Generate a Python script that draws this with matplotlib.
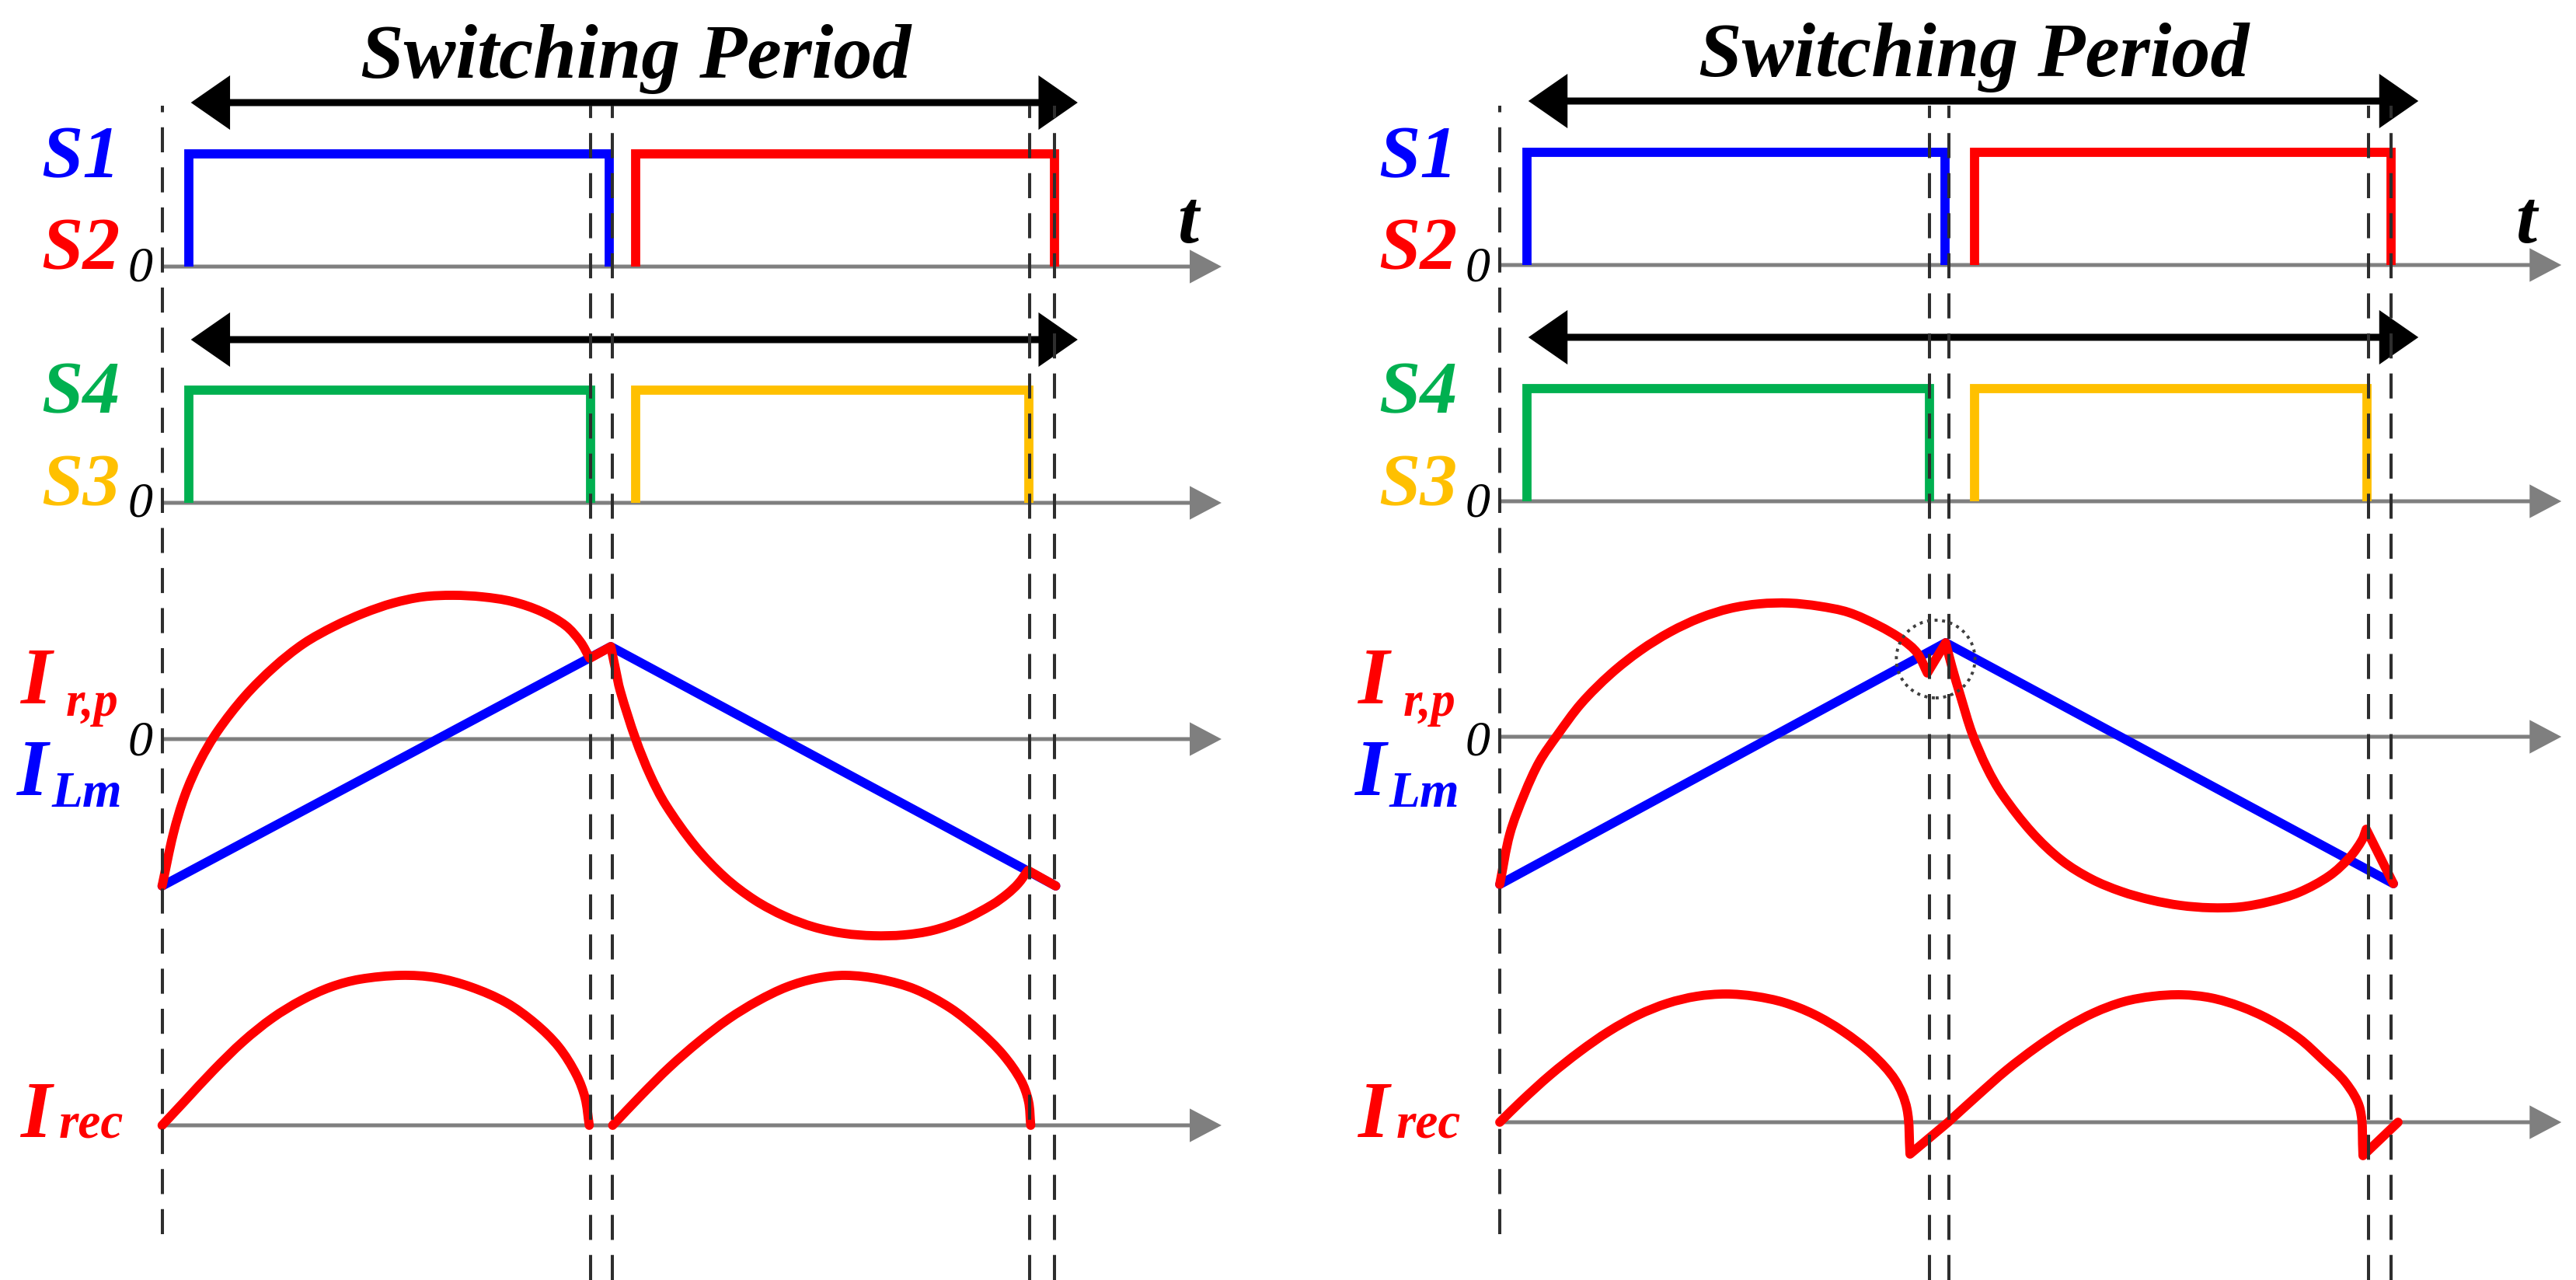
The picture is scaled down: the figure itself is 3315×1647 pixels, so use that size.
import numpy as np
import matplotlib
matplotlib.use("Agg")
import matplotlib.pyplot as plt
from matplotlib.patches import FancyArrowPatch, Ellipse, PathPatch
from matplotlib.path import Path

# ------------------------------------------------------------------
# DATA  (time normalised to one switching period, amplitudes in a.u.)
# ------------------------------------------------------------------
dashed_L = [0.0, 0.4795, 0.5038, 0.9705, 0.9986]
dashed_R = [0.0, 0.4805, 0.5022, 0.9725, 0.9975]

# gate signals: (turn-on, turn-off)
S1_L, S2_L, S4_L, S3_L = (0.030, 0.500), (0.530, 0.9986), (0.030, 0.4795), (0.530, 0.970)
S1_R, S2_R, S4_R, S3_R = (0.0304, 0.4985), (0.531, 0.9975), (0.0304, 0.4805), (0.531, 0.970)

# magnetizing current (triangle corners)
t_ilm_L = [0.0, 0.5021, 1.0]
i_ilm_L = [-1.89, 1.19, -1.89]
t_ilm_R = [0.0, 0.499, 1.0]
i_ilm_R = [-1.90, 1.21, -1.89]

# resonant current, left case
t_ir_L = [0.000, 0.0125, 0.0256, 0.042, 0.062, 0.0925, 0.1256, 0.1586, 0.1925,
          0.2256, 0.2586, 0.2916, 0.3256, 0.3586, 0.3917, 0.4247, 0.4516, 0.4682, 0.4786,
          0.5021, 0.507, 0.5127, 0.5299, 0.5464, 0.5638, 0.5968, 0.6299, 0.663, 0.6969,
          0.7299, 0.763, 0.796, 0.8299, 0.8629, 0.896, 0.929, 0.946, 0.958, 0.969, 1.0]
i_ir_L = [-1.89, -1.22, -0.72, -0.29, 0.10, 0.55, 0.93, 1.23, 1.45,
          1.62, 1.75, 1.83, 1.85, 1.83, 1.77, 1.64, 1.46, 1.25, 1.04,
          1.19, 0.92, 0.62, 0.0, -0.47, -0.85, -1.38, -1.78, -2.07, -2.28,
          -2.42, -2.50, -2.53, -2.52, -2.46, -2.33, -2.13, -1.99, -1.86, -1.69, -1.89]
kinks_ir_L = [0.4786, 0.5021, 0.969]

# resonant current, right case
t_ir_R = [0.0, 0.0113, 0.0278, 0.0444, 0.0644, 0.0913, 0.1244, 0.1574, 0.191,
          0.2244, 0.2574, 0.2904, 0.3241, 0.3574, 0.3904, 0.4239, 0.4504, 0.467, 0.4785,
          0.499, 0.506, 0.5157, 0.5287, 0.5452, 0.5622, 0.5955, 0.6287, 0.662, 0.6953,
          0.7287, 0.7617, 0.7948, 0.8284, 0.8617, 0.8948, 0.9283, 0.9513, 0.9649, 0.9696,
          1.0]
i_ir_R = [-1.90, -1.25, -0.73, -0.32, 0.02, 0.43, 0.81, 1.11, 1.35,
          1.53, 1.65, 1.71, 1.72, 1.68, 1.60, 1.43, 1.25, 1.08, 0.82,
          1.21, 0.90, 0.52, 0.04, -0.40, -0.74, -1.23, -1.59, -1.83, -1.99,
          -2.10, -2.17, -2.20, -2.19, -2.12, -2.00, -1.79, -1.55, -1.33, -1.19,
          -1.89]
kinks_ir_R = [0.4785, 0.499, 0.9696]

# rectifier current, left case (two separate half waves)
t_rec_L1 = [0.0, 0.0252, 0.0577, 0.0908, 0.1234, 0.156, 0.1888, 0.2214, 0.2673, 0.3065,
            0.3456, 0.385, 0.4177, 0.4438, 0.4636, 0.4734, 0.478]
i_rec_L1 = [0.0, 0.31, 0.71, 1.08, 1.38, 1.61, 1.78, 1.88, 1.93, 1.90,
            1.78, 1.58, 1.31, 1.01, 0.65, 0.35, 0.0]
t_rec_L2 = [0.5042, 0.5356, 0.568, 0.601, 0.634, 0.6665, 0.699, 0.7317, 0.7647, 0.8038,
            0.843, 0.882, 0.915, 0.941, 0.961, 0.9695, 0.972]
i_rec_L2 = [0.0, 0.38, 0.75, 1.08, 1.37, 1.60, 1.78, 1.89, 1.93, 1.88,
            1.75, 1.51, 1.21, 0.91, 0.58, 0.31, 0.0]

# rectifier current, right case (continuous with negative dips)
t_rec_R = [0.0, 0.024, 0.0567, 0.0896, 0.1222, 0.155, 0.1876, 0.2203, 0.2531, 0.2858,
           0.3183, 0.3513, 0.384, 0.4165, 0.4426, 0.4557, 0.4591, 0.5017, 0.5343, 0.567,
           0.6, 0.6325, 0.6652, 0.698, 0.7306, 0.7635, 0.796, 0.8287, 0.8616, 0.8943,
           0.9204, 0.9466, 0.9627, 0.966, 1.0052]
i_rec_R = [0.0, 0.27, 0.61, 0.91, 1.17, 1.38, 1.53, 1.62, 1.65, 1.62,
           1.54, 1.39, 1.17, 0.88, 0.54, 0.17, -0.41, 0.0, 0.34, 0.67,
           0.96, 1.21, 1.41, 1.55, 1.62, 1.64, 1.60, 1.49, 1.32, 1.08,
           0.81, 0.51, 0.17, -0.43, 0.0]
kinks_rec_R = [0.4591, 0.5017, 0.966]

title_text = "Switching Period"

# ------------------------------------------------------------------
# LAYOUT / STYLE
# ------------------------------------------------------------------
W, H, DPI = 3315, 1647, 100
PX_T = 1150.0           # pixels per normalised period
PX_Y = 100.0            # pixels per amplitude unit
BLUE, RED, GREEN, YEL = "#0000FF", "#FF0000", "#00B050", "#FFC000"
GRAY = "#7f7f7f"
FONT = "Liberation Serif"
LW = 8.5
GATE_H = 1.45

fig = plt.figure(figsize=(W / DPI, H / DPI), dpi=DPI)
fig.patch.set_facecolor("white")


def make_axes(px_left, px_right, px_t0):
    ax = fig.add_axes([px_left / W, 0, (px_right - px_left) / W, 1])
    ax.set_xlim((px_left - px_t0) / PX_T, (px_right - px_t0) / PX_T)
    ax.set_ylim(0, H / PX_Y)
    ax.axis("off")
    return ax


def yrow(px):
    return (H - px) / PX_Y


def smooth_path(xs, ys, kinks=()):
    """Bezier path passing through every data point (tangents from neighbours)."""
    P = np.column_stack([np.asarray(xs, float), np.asarray(ys, float)])
    S = np.array([PX_T, PX_Y])
    Q = P * S
    idx = [0] + [int(np.argmin(np.abs(P[:, 0] - k))) for k in kinks] + [len(P) - 1]
    idx = sorted(set(idx))
    verts, codes = [tuple(P[0])], [Path.MOVETO]
    for a, b in zip(idx[:-1], idx[1:]):
        seg = Q[a:b + 1]
        n = len(seg)
        if n == 2:
            verts.append(tuple(P[b])); codes.append(Path.LINETO)
            continue
        d = np.linalg.norm(np.diff(seg, axis=0), axis=1)
        m = np.zeros_like(seg)
        m[0] = (seg[1] - seg[0]) / d[0]
        m[-1] = (seg[-1] - seg[-2]) / d[-1]
        for i in range(1, n - 1):
            m[i] = (seg[i + 1] - seg[i - 1]) / (d[i - 1] + d[i])
        for i in range(n - 1):
            c1 = (seg[i] + m[i] * d[i] / 3.0) / S
            c2 = (seg[i + 1] - m[i + 1] * d[i] / 3.0) / S
            verts += [tuple(c1), tuple(c2), tuple(seg[i + 1] / S)]
            codes += [Path.CURVE4] * 3
    return Path(verts, codes)


def curve(ax, xs, ys, yoff, color, kinks=(), z=4.5):
    path = smooth_path(xs, [yoff + v for v in ys], kinks)
    ax.add_patch(PathPatch(path, fill=False, edgecolor=color, lw=LW, zorder=z,
                           capstyle="round", joinstyle="round"))


def arrow(ax, x0, x1, y, style, color, lw, ms):
    a = FancyArrowPatch((x0, y), (x1, y), arrowstyle=style, color=color, lw=lw,
                        mutation_scale=ms, shrinkA=0, shrinkB=0, zorder=3,
                        joinstyle="miter", capstyle="butt")
    ax.add_patch(a)


def txt(ax, x, y, s, color, size, ha="left", bold=True, italic=True, va="baseline"):
    ax.text(x, y, s, color=color, fontsize=size, ha=ha, va=va, family=FONT,
            fontweight="bold" if bold else "normal",
            fontstyle="italic" if italic else "normal", zorder=6)


def draw_panel(ax, dashed, gates, ilm, ir, ir_kinks, rec_list, base, arr_top, arr_mid,
               arr_x, axis_end, title_x, title_y, circle=None):
    y12, y34, yir, yrec = base
    # dashed markers
    for k, t in enumerate(dashed):
        ybot = yrow(1588) if k == 0 else 0.0
        ax.plot([t, t], [ybot, yrow(136)], color="#2e2e2e", lw=2.9,
                ls=(0, (8.0, 4.8)), zorder=5)
    # gray time axes
    for yb in (y12, y34, yir, yrec):
        arrow(ax, 0.0, axis_end, yb, "-|>,head_length=0.85,head_width=0.45", GRAY, 3.6, 28)
    # black period arrows
    for ya in (arr_top, arr_mid):
        arrow(ax, arr_x[0], arr_x[1], ya, "<|-|>,head_length=0.72,head_width=0.5",
              "black", 6.5, 38)
    # gate signals
    (s1, s2, s4, s3) = gates
    for (ton, toff), yb, col in ((s1, y12, BLUE), (s2, y12, RED), (s4, y34, GREEN),
                                 (s3, y34, YEL)):
        ax.plot([ton, ton, toff, toff], [yb, yb + GATE_H, yb + GATE_H, yb], color=col,
                lw=LW, solid_joinstyle="miter", solid_capstyle="butt", zorder=4)
    # magnetizing + resonant currents
    ax.plot(ilm[0], [yir + v for v in ilm[1]], color=BLUE, lw=LW, zorder=4,
            solid_joinstyle="round", solid_capstyle="round")
    curve(ax, ir[0], ir[1], yir, RED, ir_kinks)
    # rectifier current
    for tt, ii, kk in rec_list:
        curve(ax, tt, ii, yrec, RED, kk)
    if circle is not None:
        ax.add_patch(Ellipse((circle[0], yir + circle[1]), circle[2], circle[3], fill=False,
                             ls=(0, (1, 1.5)), lw=2.8, color="#404040", zorder=6))

    # ---- texts ----
    txt(ax, title_x, title_y, title_text, "black", 72, ha="center")
    xs = -0.047
    txt(ax, xs, yrow(228), "S1", BLUE, 69, ha="right")
    txt(ax, xs, yrow(346), "S2", RED, 69, ha="right")
    txt(ax, xs, yrow(531), "S4", GREEN, 69, ha="right")
    txt(ax, xs, yrow(650), "S3", YEL, 69, ha="right")
    for yb in (362, 665, 972):
        txt(ax, -0.0245, yrow(yb), "0", "black", 46, ha="center", bold=False)
    txt(ax, 1.148, yrow(312), "t", "black", 70, ha="center")
    # I labels (main letter + subscript)
    txt(ax, -0.158, yrow(905), "I", RED, 74)
    txt(ax, -0.108, yrow(921), "r,p", RED, 45)
    txt(ax, -0.162, yrow(1023), "I", BLUE, 74)
    txt(ax, -0.124, yrow(1038), "Lm", BLUE, 47)
    txt(ax, -0.158, yrow(1463), "I", RED, 74)
    txt(ax, -0.116, yrow(1463), "rec", RED, 47)


axL = make_axes(0, 1660, 208.6)
axR = make_axes(1660, W, 1930.0)

draw_panel(axL, dashed_L, (S1_L, S2_L, S4_L, S3_L), (t_ilm_L, i_ilm_L), (t_ir_L, i_ir_L),
           kinks_ir_L,
           [(t_rec_L1, i_rec_L1, ()), (t_rec_L2, i_rec_L2, ())],
           (yrow(343), yrow(647), yrow(951), yrow(1448)), yrow(132), yrow(437),
           (0.0322, 1.0246), 1.1855, 0.530, yrow(100))

draw_panel(axR, dashed_R, (S1_R, S2_R, S4_R, S3_R), (t_ilm_R, i_ilm_R), (t_ir_R, i_ir_R),
           kinks_ir_R,
           [(t_rec_R, i_rec_R, kinks_rec_R)],
           (yrow(341), yrow(645), yrow(948), yrow(1444)), yrow(130), yrow(434),
           (0.032, 1.028), 1.188, 0.531, yrow(98),
           circle=(0.4878, 1.0, 0.088, 1.0))

fig.savefig("out.png", dpi=DPI, facecolor="white")
